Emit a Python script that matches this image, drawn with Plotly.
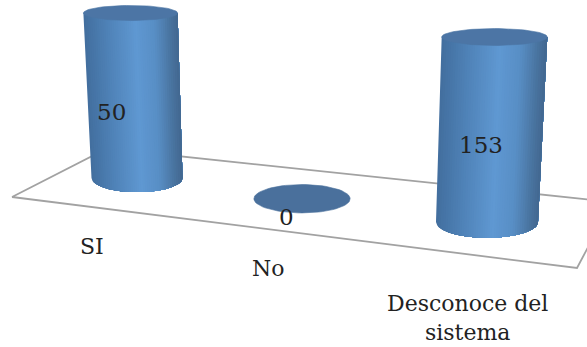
import math
import plotly.graph_objects as go

categories = ["SI", "No", "Desconoce del<br>sistema"]
values = [50, 0, 153]

# The bars in the source are cut off at a fixed axis maximum
AXIS_MAX = 50

W, H = 587, 347
FONT = "DejaVu Serif"

# simple one-point perspective of the chart's category axis (pixel space of a hidden axis pair)
PERSP = -0.054
BASE_X, STEP_X = 137.0, 148.7
BASE_Y, STEP_Y = 178.0, 10.0
RADIUS = 45.5
RISE = 165.0
FLARE_X = 0.04
FLARE_R = 0.035
FLAT_BOTTOM, FLAT_TOP = 0.31, 0.16
VANISH_X = 300.0

FLOOR_X = [12, 577, 612, 107, 12]
FLOOR_Y = [197, 268, 202, 148.5, 197]
LABEL_POS = [(92, 246), (268, 268), (467, 318)]
VALUE_POS = [(111, 112), (286, 217), (481, 145)]

STOPS = [(-1.0, (66, 110, 158)), (-0.6, (76, 126, 178)), (0.1, (95, 152, 210)),
         (0.5, (88, 142, 197)), (0.85, (72, 114, 157)), (1.0, (66, 103, 144))]
TOP_COLOR = "#4c75a5"
DISK_COLOR = "#4a709c"
STRIPS = 44
ELL = 72


def shade(t):
    for (a, ca), (b, cb) in zip(STOPS, STOPS[1:]):
        if t <= b:
            f = (t - a) / (b - a)
            r, g, bl = [round(p + (q - p) * f) for p, q in zip(ca, cb)]
            return f"rgb({r},{g},{bl})"
    return "rgb(66,103,144)"


def project(i, value):
    w = 1 + PERSP * i
    cx = (BASE_X + STEP_X * i) / w
    cy = (BASE_Y + STEP_Y * i) / w
    r = RADIUS / w
    h = min(value, AXIS_MAX) / AXIS_MAX
    tx = cx + (cx - VANISH_X) * FLARE_X * h
    ty = cy - RISE * h / w
    tr = r * (1 + FLARE_R * h)
    return cx, cy, r, tx, ty, tr, h


def ellipse(cx, cy, rx, ry):
    xs, ys = [], []
    for k in range(ELL + 1):
        a = 2 * math.pi * k / ELL
        xs.append(cx + rx * math.cos(a))
        ys.append(cy + ry * math.sin(a))
    return xs, ys


def front_profile(cx, cy, r, ry, t1, t2, n=4):
    xs, ys = [], []
    for k in range(n + 1):
        t = t1 + (t2 - t1) * k / n
        xs.append(cx + t * r)
        ys.append(cy + ry * math.sqrt(max(0.0, 1 - t * t)))
    return xs, ys


fig = go.Figure()
fig.add_trace(go.Scatter(x=FLOOR_X, y=FLOOR_Y, mode="lines",
                         line=dict(color="#a2a2a2", width=1.8), hoverinfo="skip"))

for i, v in enumerate(values):
    cx, cy, r, tx, ty, tr, h = project(i, v)
    if h > 0:
        ry = r * FLAT_BOTTOM
        # painted left to right: each strip runs on to the right edge, so no seams can show
        for s in range(STRIPS):
            t1 = -1 + 2 * s / STRIPS
            c = shade(t1 + 1 / STRIPS)
            bx, by = front_profile(cx, cy, r, ry, t1, 1.0, n=2 * (STRIPS - s))
            fig.add_trace(go.Scatter(
                x=[tx + t1 * tr] + bx + [tx + tr, tx + t1 * tr],
                y=[ty] + by + [ty, ty],
                mode="none", fill="toself", fillcolor=c, hoverinfo="skip"))
        ex, ey = ellipse(tx, ty, tr, tr * FLAT_TOP)
        col = TOP_COLOR
    else:
        ex, ey = ellipse(cx, cy, r, r * (FLAT_BOTTOM - 0.015))
        col = DISK_COLOR
    fig.add_trace(go.Scatter(x=ex, y=ey, mode="lines", fill="toself", fillcolor=col,
                             line=dict(color=col, width=0.6), hoverinfo="skip"))

annotations = []
for cat, (x, y) in zip(categories, LABEL_POS):
    annotations.append(dict(x=x, y=y, text=cat, showarrow=False, xanchor="center", yanchor="middle",
                            font=dict(family=FONT, size=22, color="#222222")))
for v, (x, y) in zip(values, VALUE_POS):
    annotations.append(dict(x=x, y=y, text=str(v), showarrow=False, xanchor="center", yanchor="middle",
                            font=dict(family=FONT, size=23, color="#222222")))

fig.update_layout(
    width=W, height=H, margin=dict(l=0, r=0, t=0, b=0), showlegend=False,
    paper_bgcolor="white", plot_bgcolor="white", annotations=annotations,
    xaxis=dict(range=[0, W], visible=False, fixedrange=True),
    yaxis=dict(range=[H, 0], visible=False, fixedrange=True),
)
fig.write_html("out.html", config={"displayModeBar": False},
               post_script="document.body.style.margin='0';document.body.style.overflow='hidden';")
